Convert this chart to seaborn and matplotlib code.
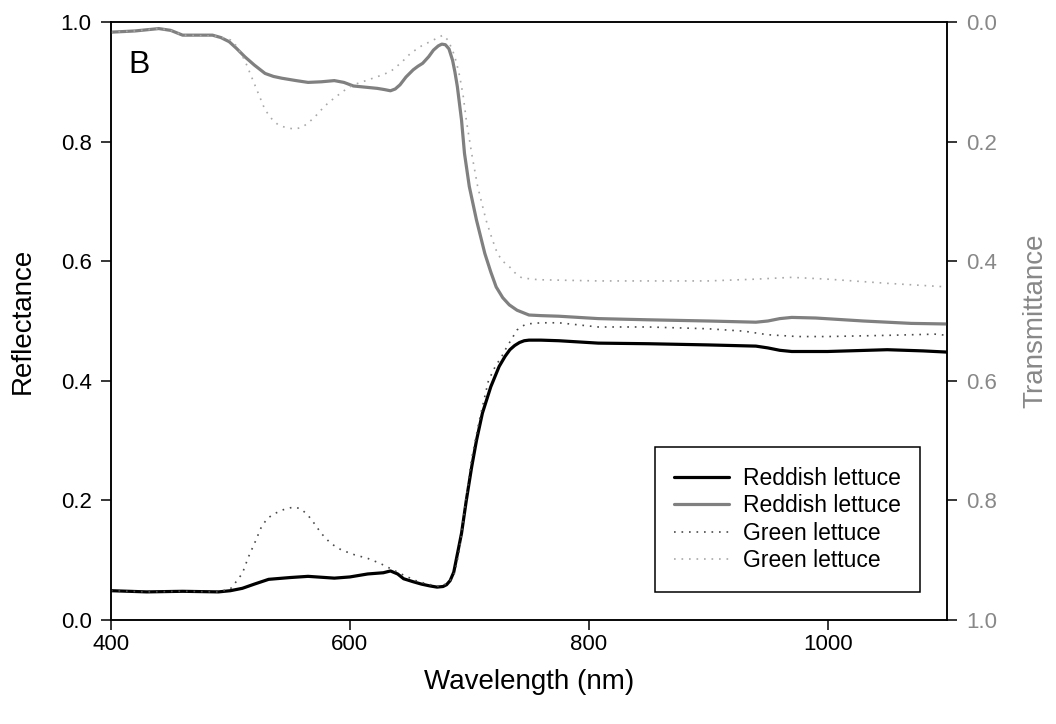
import matplotlib
matplotlib.use("Agg")
import matplotlib.pyplot as plt
import seaborn as sns

# Reflectance, reddish lettuce
wl_refl_red = [400, 430, 460, 490, 500, 510, 520, 532, 550, 565, 587, 600, 615, 628, 634, 640,
               645, 653, 660, 667, 673, 678, 681, 684, 687, 689, 691, 693.5, 697.5, 702, 706,
               711, 718, 725, 730, 734, 738, 742, 746, 750, 760, 775, 808, 850, 900, 940, 950,
               960, 970, 1000, 1050, 1080, 1100]
refl_red = [0.049, 0.047, 0.048, 0.047, 0.049, 0.053, 0.060, 0.068, 0.071, 0.073, 0.070, 0.072,
            0.077, 0.079, 0.082, 0.077, 0.069, 0.064, 0.060, 0.057, 0.055, 0.056, 0.059, 0.066,
            0.080, 0.100, 0.120, 0.145, 0.200, 0.256, 0.300, 0.346, 0.390, 0.424, 0.441, 0.452,
            0.459, 0.464, 0.467, 0.468, 0.468, 0.467, 0.463, 0.462, 0.460, 0.458, 0.455, 0.451,
            0.449, 0.449, 0.452, 0.450, 0.448]

# Reflectance, green lettuce
wl_refl_green = [400, 430, 460, 490, 500, 504, 510, 515, 521, 526, 531, 537, 545, 553, 559, 565,
                 570, 576, 584, 593, 604, 615, 625, 634, 645, 655, 665, 675, 683, 688, 692, 697,
                 702, 708, 716, 722, 727, 731, 734, 737, 740, 744, 748, 760, 775, 808, 850, 900,
                 930, 950, 975, 1000, 1050, 1090, 1100]
refl_green = [0.049, 0.047, 0.048, 0.047, 0.052, 0.062, 0.078, 0.105, 0.132, 0.156, 0.170, 0.178,
              0.185, 0.189, 0.186, 0.175, 0.162, 0.145, 0.128, 0.117, 0.109, 0.103, 0.095, 0.086,
              0.075, 0.066, 0.060, 0.056, 0.062, 0.080, 0.120, 0.200, 0.270, 0.330, 0.400, 0.425,
              0.440, 0.455, 0.465, 0.475, 0.485, 0.491, 0.495, 0.497, 0.497, 0.490, 0.490, 0.487,
              0.483, 0.477, 0.474, 0.474, 0.476, 0.478, 0.476]

# Transmittance, reddish lettuce
wl_trans_red = [400, 420, 440, 450, 460, 485, 492, 499, 505, 512, 520, 529, 536, 543, 555, 565,
                576, 587, 595, 603, 613, 623, 629, 634, 638, 642, 647, 653, 657, 661, 666, 670,
                674, 677, 680, 683, 686, 688, 690, 693.5, 696, 700, 706, 713, 718, 722.5, 728,
                733.5, 740, 750, 760, 775, 808, 850, 900, 940, 950, 960, 970, 990, 1030, 1070,
                1100]
trans_red = [0.017, 0.015, 0.011, 0.014, 0.022, 0.022, 0.026, 0.033, 0.044, 0.058, 0.072, 0.086,
             0.091, 0.094, 0.098, 0.101, 0.100, 0.098, 0.101, 0.107, 0.109, 0.111, 0.113, 0.115,
             0.112, 0.105, 0.092, 0.080, 0.074, 0.069, 0.058, 0.047, 0.040, 0.037, 0.038, 0.045,
             0.064, 0.084, 0.108, 0.164, 0.220, 0.275, 0.331, 0.387, 0.418, 0.443, 0.461, 0.473,
             0.482, 0.490, 0.491, 0.492, 0.496, 0.498, 0.500, 0.502, 0.500, 0.496, 0.494, 0.495,
             0.500, 0.504, 0.505]

# Transmittance, green lettuce
wl_trans_green = [400, 420, 440, 450, 460, 490, 500, 505, 512, 521, 529, 535, 540, 547, 554, 560,
                  565, 571, 576, 581, 587, 595, 603, 615, 625, 634, 643, 651, 660, 670, 675, 678,
                  682, 686, 689, 692, 695, 697.5, 702, 707, 714, 719, 723.5, 728, 733.5, 738, 744,
                  758, 808, 900, 940, 970, 1000, 1050, 1100]
trans_green = [0.017, 0.015, 0.011, 0.014, 0.022, 0.024, 0.030, 0.040, 0.064, 0.108, 0.147, 0.163,
               0.172, 0.177, 0.179, 0.176, 0.169, 0.158, 0.147, 0.137, 0.127, 0.115, 0.105, 0.097,
               0.090, 0.083, 0.068, 0.052, 0.040, 0.030, 0.025, 0.022, 0.030, 0.047, 0.066, 0.091,
               0.125, 0.164, 0.220, 0.275, 0.331, 0.362, 0.387, 0.400, 0.409, 0.419, 0.428, 0.431,
               0.433, 0.433, 0.430, 0.427, 0.430, 0.437, 0.443]

yticks = [0.0, 0.2, 0.4, 0.6, 0.8, 1.0]
xticks = [400, 600, 800, 1000]

sns.set_style("ticks")
plt.rcParams["font.family"] = ["Liberation Sans", "DejaVu Sans"]
plt.rcParams.update({"text.color": "black", "axes.labelcolor": "black",
                     "xtick.color": "black", "ytick.color": "black",
                     "axes.edgecolor": "black"})

fig = plt.figure(figsize=(10.56, 7.24), dpi=100)
ax = fig.add_axes([111 / 1056, 1 - 620 / 724, (947 - 111) / 1056, 598 / 724])
ax2 = ax.twinx()

dot = (0, (1, 3.5))
sns.lineplot(x=wl_refl_red, y=refl_red, ax=ax, color="black", linewidth=2.3,
             label="Reddish lettuce", legend=False)
sns.lineplot(x=wl_refl_green, y=refl_green, ax=ax, color="#4a4a4a", linewidth=1.2,
             linestyle=dot, label="Green lettuce", legend=False)
sns.lineplot(x=wl_trans_red, y=trans_red, ax=ax2, color="#808080", linewidth=2.3,
             label="Reddish lettuce", legend=False)
sns.lineplot(x=wl_trans_green, y=trans_green, ax=ax2, color="#a8a8a8", linewidth=1.2,
             linestyle=dot, label="Green lettuce", legend=False)

ax.set_xlim(400, 1100)
ax.set_ylim(0, 1)
ax2.set_ylim(1, 0)
ax.set_xticks(xticks)
ax.set_yticks(yticks)
ax2.set_yticks(yticks)
ax.set_yticklabels([f"{v:.1f}" for v in yticks])
ax2.set_yticklabels([f"{v:.1f}" for v in yticks])

for a in (ax, ax2):
    for s in a.spines.values():
        s.set_visible(True)
        s.set_color("black")
        s.set_linewidth(1.1)

ax.tick_params(axis="y", direction="out", length=7, width=1.1, labelsize=16, pad=7,
               colors="black", right=False)
ax.tick_params(axis="x", direction="out", length=7, width=1.1, labelsize=16, pad=3,
               colors="black", top=False)
ax2.tick_params(axis="y", direction="out", length=7, width=1.1, labelsize=16, pad=7,
                color="black", labelcolor="#888888")

ax.set_xlabel("Wavelength (nm)", fontsize=20, labelpad=10, color="black")
ax.set_ylabel("Reflectance", fontsize=20, labelpad=18, color="black")
ax2.set_ylabel("Transmittance", fontsize=20, labelpad=18, color="#888888")

ax.text(0.021, 0.915, "B", transform=ax.transAxes, fontsize=23, ha="left", va="baseline",
        color="black")

h1, l1 = ax.get_legend_handles_labels()
h2, l2 = ax2.get_legend_handles_labels()
handles = [h1[0], h2[0], h1[1], h2[1]]
labels = [l1[0], l2[0], l1[1], l2[1]]
leg = ax2.legend(handles, labels, loc="lower right", bbox_to_anchor=(0.968, 0.047),
                 fontsize=16.5, frameon=True, fancybox=False, framealpha=1,
                 edgecolor="black", borderpad=0.85, labelspacing=0.2, handlelength=2.4,
                 handletextpad=0.6, borderaxespad=0, labelcolor="black")
leg.get_frame().set_linewidth(1.1)

fig.savefig("out.png", dpi=100)
